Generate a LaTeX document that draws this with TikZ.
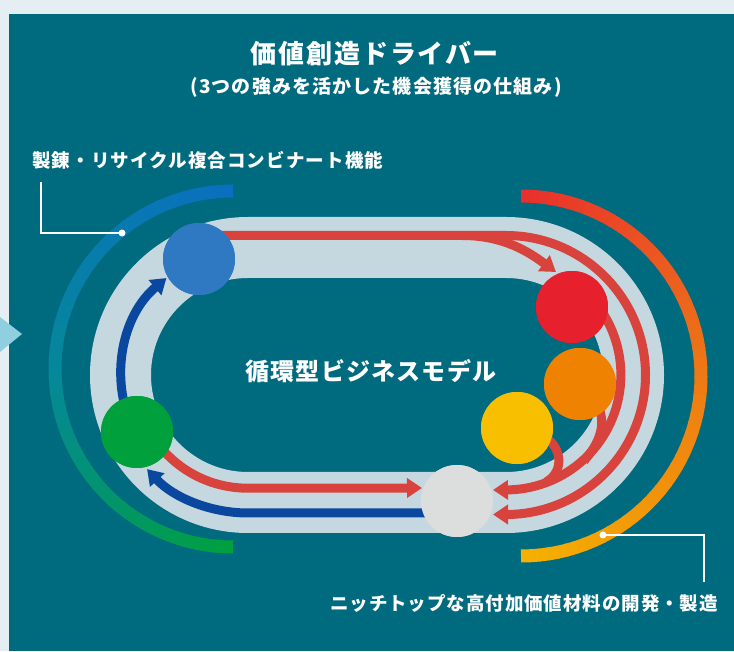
\documentclass[tikz,border=0pt]{standalone}
\usepackage{fontspec}
\newfontfamily\jp{Noto Sans CJK JP}
\usetikzlibrary{arrows.meta}
\definecolor{outerbg}{HTML}{E5EEF3}
\definecolor{panel}{HTML}{006A7E}
\definecolor{trackc}{HTML}{C5D8DF}
\definecolor{redline}{HTML}{D8433D}
\definecolor{blueline}{HTML}{0A48A0}
\definecolor{cblue}{HTML}{2E79C1}
\definecolor{cred}{HTML}{E6212D}
\definecolor{corange}{HTML}{EF8200}
\definecolor{cyellow}{HTML}{F8BE00}
\definecolor{cgrey}{HTML}{DCDDDD}
\definecolor{cgreen}{HTML}{00A03C}
\definecolor{gA}{HTML}{0A6FC0}
\definecolor{gB}{HTML}{05889A}
\definecolor{gC}{HTML}{00A040}
\definecolor{rA}{HTML}{E8302E}
\definecolor{rB}{HTML}{EE7A14}
\definecolor{rC}{HTML}{F6B000}
\definecolor{tri}{HTML}{8FCFE0}
\begin{document}
\begin{tikzpicture}[x=1pt,y=1pt,
  flow/.style={line width=9pt},
  redflow/.style={flow, draw=redline},
  blueflow/.style={flow, draw=blueline},
  tipped/.style={-{Triangle[width=19pt,length=15pt]}},
  ball/.style={circle, minimum size=72pt, inner sep=0pt},
  leader/.style={draw=white, line width=1.2pt},
  dotc/.style={circle, fill=white, inner sep=0pt, minimum size=7pt},
  lbl/.style={text=white, inner sep=0pt},
  bigarc/.style={line width=13pt}]
% background
\fill[outerbg] (0,0) rectangle (734,651);
\useasboundingbox (0,0) rectangle (734,651);
\fill[panel] (9,0) rectangle (734,637);
\fill[tri] (0,334) -- (22,317) -- (0,299) -- cycle;
% left gradient arc
\foreach \i in {0,...,29}{
  \pgfmathsetmacro\aa{90+3*\i}
  \pgfmathsetmacro\bb{90+3*\i+3.4}
  \pgfmathtruncatemacro\pp{100-100*\i/30}
  \draw[bigarc, draw=gA!\pp!gB] (233,282) ++(\aa:178pt) arc[start angle=\aa, end angle=\bb, radius=178pt];
}
\foreach \i in {0,...,29}{
  \pgfmathsetmacro\aa{180+3*\i}
  \pgfmathsetmacro\bb{min(180+3*\i+3.4,270)}
  \pgfmathtruncatemacro\pp{100-100*\i/29}
  \draw[bigarc, draw=gB!\pp!gC] (233,282) ++(\aa:178pt) arc[start angle=\aa, end angle=\bb, radius=178pt];
}
% right gradient arc
\foreach \i in {0,...,29}{
  \pgfmathsetmacro\aa{90-3*\i}
  \pgfmathsetmacro\bb{90-3*\i-3.4}
  \pgfmathtruncatemacro\pp{100-100*\i/30}
  \draw[bigarc, draw=rA!\pp!rB] (521,275) ++(\aa:180pt) arc[start angle=\aa, end angle=\bb, radius=180pt];
}
\foreach \i in {0,...,29}{
  \pgfmathsetmacro\aa{0-3*\i}
  \pgfmathsetmacro\bb{max(0-3*\i-3.4,-90)}
  \pgfmathtruncatemacro\pp{100-100*\i/29}
  \draw[bigarc, draw=rB!\pp!rC] (521,275) ++(\aa:180pt) arc[start angle=\aa, end angle=\bb, radius=180pt];
}
% track
\draw[trackc, line width=61pt] (248,403.5) -- (506,403.5) arc[start angle=90,end angle=-90,radius=127.5pt] -- (248,148.5) arc[start angle=270,end angle=90,radius=127.5pt] -- cycle;
% circles (named)
\node[ball, fill=cblue] (nblue) at (199,392) {};
\node[ball, fill=cred] (nred) at (572,344) {};
\node[ball, fill=corange] (norange) at (580,267) {};
\node[ball, fill=cyellow] (nyellow) at (517,223) {};
\node[ball, fill=cgrey] (ngrey) at (457,150) {};
\node[ball, fill=cgreen] (ngreen) at (137,219) {};
% flows
\coordinate (topstart) at (nblue.center |- 0,415.5);
\coordinate (redtip) at (556,379);
\coordinate (greyup) at (493,161);
\coordinate (greylow) at (493,136.5);
\coordinate (greyleft) at (422,163);
% red: blue -> outer right -> grey
\draw[redflow, tipped] (topstart) -- (506,415.5) arc[start angle=90,end angle=-90,radius=139.5pt] -- (greylow);
% red: branch to red circle
\draw[redflow, tipped] (462,415.5) .. controls (505,415.5) and (530,398) .. (redtip);
% red: red circle -> grey
\draw[redflow, tipped] (nred.center) ++(22,6) arc[start angle=40,end angle=-90,radius=115pt] -- (greyup);
% feeders
\draw[redflow] (norange.center) ++(18,-22) .. controls (605,230) and (603,212) .. (584,190);
\draw[redflow] (nyellow.center) ++(22,-6) .. controls (562,208) and (566,180) .. (546,169);
% red: green -> grey
\draw[redflow, tipped] (ngreen.center) ++(18,-8) arc[start angle=215,end angle=270,radius=113pt] -- (greyleft);
% blue: grey -> green
\draw[blueflow, tipped] (ngrey.center) ++(-17,-12) -- (248,138) arc[start angle=270,end angle=223,radius=138pt];
% blue: green -> blue
\draw[blueflow, tipped] (ngreen.center) ++(-4,3) arc[start angle=205,end angle=130,radius=127pt];
% redraw circles on top
\foreach \n/\c in {nblue/cblue,nred/cred,norange/corange,nyellow/cyellow,ngrey/cgrey,ngreen/cgreen}{
  \fill[\c] (\n) circle[radius=36pt];
}
% leaders
\node[dotc] (dotL) at (122,418) {};
\coordinate (cornL) at (41,418);
\coordinate (endL) at (41,469);
\draw[leader] (dotL.center) -- (cornL) -- (endL);
\node[dotc] (dotR) at (603,116) {};
\coordinate (cornR) at (704,116);
\coordinate (endR) at (704,69);
\draw[leader] (dotR.center) -- (cornR) -- (endR);
% texts
\node[lbl, font=\jp\bfseries\fontsize{26}{30}\selectfont\addfontfeatures{LetterSpace=7}] (title) at (375,597.5) {価値創造ドライバー};
\node[lbl, font=\jp\bfseries\fontsize{19}{23}\selectfont\addfontfeatures{LetterSpace=6}] (sub) at (376,564) {(3つの強みを活かした機会獲得の仕組み)};
\node[lbl, anchor=west, font=\jp\bfseries\fontsize{18.5}{22}\selectfont\addfontfeatures{LetterSpace=6}] (labL) at (32,491) {製錬・リサイクル複合コンビナート機能};
\node[lbl, anchor=east, font=\jp\bfseries\fontsize{18.5}{22}\selectfont\addfontfeatures{LetterSpace=5}] (labR) at (718,48) {ニッチトップな高付加価値材料の開発・製造};
\node[lbl, font=\jp\bfseries\fontsize{24}{28}\selectfont\addfontfeatures{LetterSpace=5}] (center) at (371,280) {循環型ビジネスモデル};
\end{tikzpicture}
\end{document}
